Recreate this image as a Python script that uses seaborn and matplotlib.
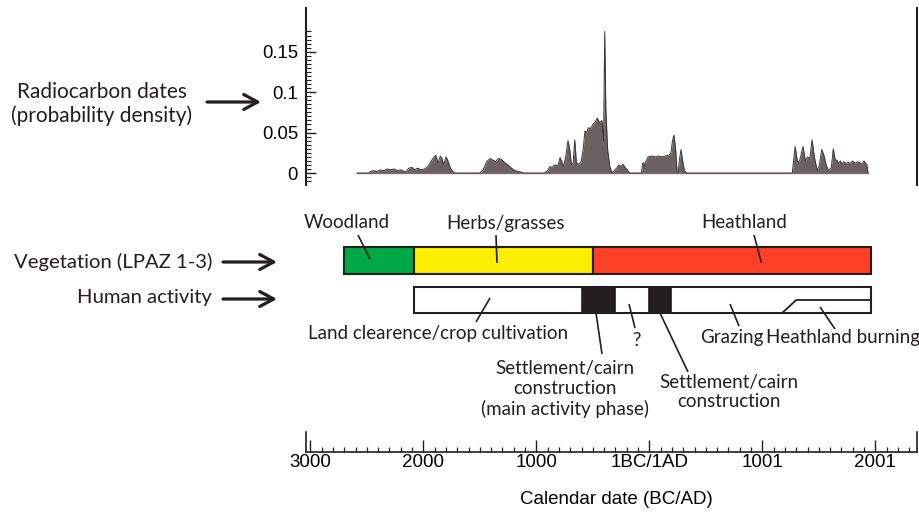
import matplotlib
matplotlib.use("Agg")
import matplotlib.pyplot as plt
import seaborn as sns
import pandas as pd
from matplotlib.ticker import FixedLocator

# ---------------- data ----------------
density_years = [
    -2590, -2480, -2470, -2440, -2410, -2380, -2350, -2320, -2290, -2260, -2230, -2200,
    -2170, -2150, -2130, -2100, -2080, -2050, -2020, -1990, -1960, -1930, -1910, -1890,
    -1870, -1850, -1835, -1820, -1800, -1785, -1760, -1740, -1720,
    -1500, -1470, -1440, -1410, -1385, -1360, -1335, -1310, -1280, -1250, -1220, -1190,
    -1160, -1130, -1110,
    -930, -900, -880, -860, -840, -810, -790, -775, -760, -740, -720, -705, -690, -675,
    -660, -645, -625, -605, -585, -570, -555, -540, -520, -500, -480, -460, -440, -420,
    -405, -395, -385, -370, -350, -330,
    -310, -290, -270, -250, -235, -215, -195, -175,
    -70, -60, -50, -40, -30, -10, 20, 50, 80, 110, 140, 170, 190, 205, 218, 232, 245,
    255, 265, 280, 295, 310, 330,
    1265, 1290, 1310, 1330, 1360, 1380, 1400, 1420, 1440, 1460, 1485, 1505, 1525, 1545,
    1565, 1585, 1610, 1628, 1645, 1660, 1675, 1690, 1705, 1720, 1740, 1760, 1780, 1800,
    1820, 1840, 1860, 1880, 1900, 1915, 1925, 1935,
]
density_values = [
    0.0, 0.0, 0.002, 0.003, 0.002, 0.004, 0.003, 0.005, 0.004, 0.005, 0.003, 0.004,
    0.002, 0.002, 0.006, 0.007, 0.004, 0.006, 0.004, 0.005, 0.008, 0.015, 0.019, 0.022,
    0.012, 0.021, 0.018, 0.010, 0.020, 0.016, 0.006, 0.002, 0.0,
    0.0, 0.004, 0.014, 0.018, 0.016, 0.014, 0.018, 0.017, 0.013, 0.010, 0.006, 0.003,
    0.002, 0.001, 0.0,
    0.0, 0.003, 0.008, 0.007, 0.010, 0.009, 0.019, 0.014, 0.008, 0.020, 0.040, 0.030,
    0.010, 0.012, 0.041, 0.012, 0.011, 0.013, 0.030, 0.052, 0.050, 0.056, 0.055, 0.060,
    0.063, 0.068, 0.062, 0.065, 0.040, 0.175, 0.080, 0.030, 0.008, 0.0,
    0.003, 0.006, 0.010, 0.008, 0.011, 0.007, 0.004, 0.0,
    0.0, 0.012, 0.013, 0.006, 0.015, 0.020, 0.021, 0.020, 0.021, 0.020, 0.021, 0.022,
    0.024, 0.040, 0.047, 0.030, 0.002, 0.0, 0.015, 0.029, 0.015, 0.003, 0.0,
    0.0, 0.033, 0.014, 0.015, 0.033, 0.015, 0.020, 0.018, 0.041, 0.020, 0.003, 0.010,
    0.029, 0.022, 0.010, 0.003, 0.007, 0.030, 0.016, 0.016, 0.012, 0.015, 0.011, 0.014,
    0.012, 0.013, 0.012, 0.015, 0.012, 0.014, 0.013, 0.011, 0.015, 0.012, 0.010, 0.0,
]

veg_zones = ["Woodland", "Herbs/grasses", "Heathland"]
veg_start = [-2700, -2080, -500]
veg_end = [-2080, -500, 1960]
veg_colors = ["#00a846", "#fcee00", "#ff4026"]

activity_start = -2080
activity_end = 1960
phase_start = [-600, 0]
phase_end = [-300, 190]
burn_years = [1175, 1300, 1960]

x_tick_years = [-3000, -2000, -1000, 0, 1000, 2000]
x_tick_labels = ["3000", "2000", "1000", "1BC/1AD", "1001", "2001"]
y_ticks = [0, 0.05, 0.1, 0.15]
y_tick_labels = ["0", "0.05", "0.1", "0.15"]

# ---------------- figure ----------------
sns.set_theme(style="white")
plt.rcParams['font.family'] = ['Liberation Sans', 'DejaVu Sans']
W, H = 920, 517
fig = plt.figure(figsize=(W / 100, H / 100), dpi=100)
fig.patch.set_facecolor("white")

XL, XR = -3041, 2366
INK = "#231f20"
LABEL_FONT = ['Lato', 'DejaVu Sans']


def rect(l, t, r, b):
    return [l / W, 1 - b / H, (r - l) / W, (b - t) / H]


# ---- top density panel ----
ax = fig.add_axes(rect(305.7, 8, 916.7, 185))
ax.set_facecolor("none")
df = pd.DataFrame({"year": density_years, "density": density_values})
ax.plot([density_years[0], density_years[-1]], [0, 0], color="#a07a70", lw=1.0, zorder=1)
ax.fill_between(df["year"], 0, df["density"], color="#6a6160", lw=0, zorder=2)
sns.lineplot(data=df, x="year", y="density", ax=ax, color="#3e3636", lw=0.7,
             estimator=None, sort=False, zorder=3)
ax.set_xlim(XL, XR)
ax.set_ylim(-0.0148, 0.204)
ax.set_xlabel("")
ax.set_ylabel("")
ax.set_xticks([])
ax.yaxis.set_major_locator(FixedLocator(y_ticks))
ax.set_yticklabels(y_tick_labels)
ax.yaxis.set_minor_locator(FixedLocator([i * 0.005 for i in range(-2, 36)]))
ax.tick_params(axis="y", which="major", direction="in", length=7.2, width=1.0,
               color=INK, labelsize=13.3, pad=5.5, left=True, labelcolor="black")
ax.tick_params(axis="y", which="minor", direction="in", length=3.4, width=0.8,
               color=INK, left=True)
for s in ["top", "bottom"]:
    ax.spines[s].set_visible(False)
for s in ["left", "right"]:
    ax.spines[s].set_visible(True)
    ax.spines[s].set_color(INK)
    ax.spines[s].set_linewidth(1.5)

# ---- bars panel (y in pixel-like units) ----
axb = fig.add_axes(rect(305.7, 200, 916.7, 330))
axb.set_xlim(XL, XR)
axb.set_ylim(330, 200)
axb.axis("off")
axb.set_facecolor("none")
veg_top, veg_bot = 247, 274.5
for s0, s1, c in zip(veg_start, veg_end, veg_colors):
    axb.barh((veg_top + veg_bot) / 2, s1 - s0, left=s0, height=veg_bot - veg_top,
             color=c, edgecolor=INK, linewidth=1.5, zorder=2)
act_top, act_bot = 287, 313
axb.barh((act_top + act_bot) / 2, activity_end - activity_start, left=activity_start,
         height=act_bot - act_top, color="white", edgecolor=INK, linewidth=1.5, zorder=2)
for s0, s1 in zip(phase_start, phase_end):
    axb.barh((act_top + act_bot) / 2, s1 - s0, left=s0, height=act_bot - act_top,
             color=INK, edgecolor=INK, linewidth=1.2, zorder=3)
axb.plot(burn_years, [act_bot, (act_top + act_bot) / 2, (act_top + act_bot) / 2],
         color=INK, lw=1.3, zorder=4, solid_capstyle="butt")

# ---- bottom time axis ----
axx = fig.add_axes(rect(305.7, 431.7, 916.7, 451.7))
axx.set_facecolor("none")
axx.set_xlim(XL, XR)
axx.set_ylim(0, 1)
axx.set_yticks([])
axx.xaxis.set_major_locator(FixedLocator(x_tick_years))
axx.set_xticklabels(x_tick_labels)
axx.xaxis.set_minor_locator(FixedLocator(list(range(-3000, 2400, 100))))
axx.tick_params(axis="x", which="major", direction="in", length=8.4, width=1.0,
                color=INK, labelsize=13.5, pad=2.0, bottom=True, labelcolor="black")
axx.tick_params(axis="x", which="minor", direction="in", length=3.6, width=0.9,
                color=INK, bottom=True)
axx.spines["top"].set_visible(False)
for s in ["bottom", "left", "right"]:
    axx.spines[s].set_visible(True)
    axx.spines[s].set_color(INK)
    axx.spines[s].set_linewidth(1.2)
axx.set_xlabel("Calendar date (BC/AD)", fontsize=13.5, color="black")
axx.xaxis.set_label_coords((616 - 305.7) / 611.0, (451.7 - 499) / 20.0)
axx.xaxis.label.set_va("center")

# ---- overlay for annotations ----
ov = fig.add_axes([0, 0, 1, 1])
ov.set_xlim(0, W)
ov.set_ylim(H, 0)
ov.axis("off")
ov.set_facecolor("none")

arrow_kw = dict(arrowstyle="->,head_length=0.5,head_width=0.27", lw=2.3, color=INK,
                mutation_scale=20, shrinkA=0, shrinkB=0)
ov.annotate("", xy=(261, 102), xytext=(207, 102), arrowprops=arrow_kw)
ov.annotate("", xy=(277, 262), xytext=(223, 262), arrowprops=arrow_kw)
ov.annotate("", xy=(277, 299), xytext=(223, 299), arrowprops=arrow_kw)

ov.text(102, 104, "Radiocarbon dates\n(probability density)", ha="center", va="center",
        fontsize=15, family=LABEL_FONT, color=INK, linespacing=1.25)
ov.text(212, 262, "Vegetation (LPAZ 1-3)", ha="right", va="center", fontsize=14.6,
        family=LABEL_FONT, color=INK)
ov.text(212, 298, "Human activity", ha="right", va="center", fontsize=14.6,
        family=LABEL_FONT, color=INK)

ann_fs = 13.5
labels = [
    (346.5, 223, "Woodland"),
    (506, 223, "Herbs/grasses"),
    (744, 223, "Heathland"),
    (438, 334, "Land clearence/crop cultivation"),
    (636, 340, "?"),
    (732, 338, "Grazing"),
    (843, 338, "Heathland burning"),
    (565, 389, "Settlement/cairn\nconstruction\n(main activity phase)"),
    (729, 392, "Settlement/cairn\nconstruction"),
]
for x, y, s in labels:
    ov.text(x, y, s, ha="center", va="center", fontsize=ann_fs, family=LABEL_FONT,
            color=INK, linespacing=1.2)

leaders = [
    ((358, 235), (370, 259)),
    ((496, 235), (497, 263)),
    ((754, 235), (761.5, 263)),
    ((490, 298), (476, 322)),
    ((596, 313), (602, 354)),
    ((629, 304), (635, 328)),
    ((660, 313), (688, 372)),
    ((730, 304), (739, 326)),
    ((820, 307), (835, 329)),
]
for (x0, y0), (x1, y1) in leaders:
    ov.plot([x0, x1], [y0, y1], color=INK, lw=1.2, solid_capstyle="butt")

fig.savefig("out.png", dpi=100)
